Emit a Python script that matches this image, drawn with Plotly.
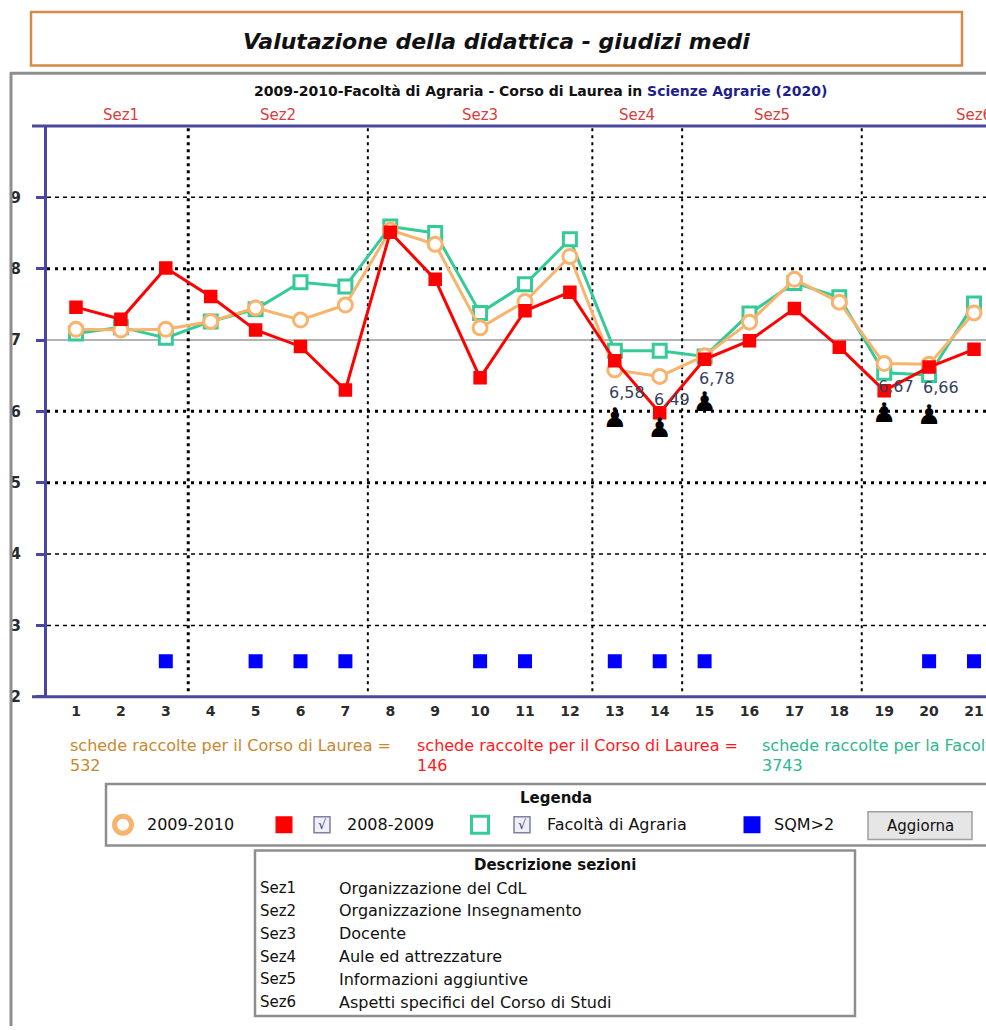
import plotly.graph_objects as go

# ---------------- data ----------------
items = list(range(1, 22))
v_2009_2010 = [7.15, 7.14, 7.15, 7.26, 7.45, 7.28, 7.49, 8.54, 8.34, 7.17, 7.54,
               8.17, 6.58, 6.49, 6.78, 7.25, 7.85, 7.53, 6.67, 6.66, 7.38]
v_2008_2009 = [7.46, 7.29, 8.01, 7.61, 7.14, 6.91, 6.30, 8.51, 7.85, 6.47, 7.41,
               7.67, 6.71, 5.98, 6.73, 6.99, 7.44, 6.90, 6.29, 6.62, 6.87]
v_facolta = [7.09, 7.18, 7.03, 7.26, 7.43, 7.81, 7.75, 8.59, 8.50, 7.38, 7.78,
             8.41, 6.85, 6.85, 6.77, 7.37, 7.80, 7.60, 6.54, 6.51, 7.51]
sqm_items = [3, 5, 6, 7, 10, 11, 13, 14, 15, 20, 21]
sqm_level = 2.5
pawn_items = [13, 14, 15, 19, 20]
pawn_vals = [5.87, 5.74, 6.10, 5.94, 5.92]
label_items = [13, 14, 15, 19, 20]

sections = ["Sez1", "Sez2", "Sez3", "Sez4", "Sez5", "Sez6"]
section_first = [1, 4, 8, 13, 15, 19]
section_last = [3, 7, 12, 14, 18, 23]
section_desc = ["Organizzazione del CdL", "Organizzazione Insegnamento", "Docente",
                "Aule ed attrezzature", "Informazioni aggiuntive",
                "Aspetti specifici del Corso di Studi"]
y_ticks = [2, 3, 4, 5, 6, 7, 8, 9]
thick_grid = [5, 6, 8]
thin_grid = [3, 4, 9]
ref_line = 7
count_texts = ["schede raccolte per il Corso di Laurea =",
               "schede raccolte per il Corso di Laurea =",
               "schede raccolte per la Facoltà ="]
count_values = ["532", "146", "3743"]
legend_names = ["2009-2010", "2008-2009", "Facoltà di Agraria", "SQM>2"]

# ---------------- style ----------------
W, H = 986, 1030
FONT = "DejaVu Sans"
ORANGE = "#F8B36C"
RED = "#FF0000"
GREEN = "#36CA97"
BLUE = "#0000FF"
AX = "#4B479F"
SEZ = "#D6403E"
GRAY = "#8E8E8E"


def px(x):
    return x / W


def py(y):
    return 1 - y / H


def note(x, y, text, size=16, color="#111", xanchor="center", **kw):
    d = dict(x=px(x), y=py(y), xref="paper", yref="paper", showarrow=False,
             xanchor=xanchor, yanchor="middle", text=text,
             font=dict(family=FONT, size=size, color=color))
    d.update(kw)
    return d


x_unit = 44.9
x_lo = 1 - (76 - 47) / x_unit
x_hi = x_lo + (W - 47) / x_unit

fig = go.Figure()

# series
fig.add_trace(go.Scatter(x=items, y=v_facolta, mode="lines+markers",
                         line=dict(color=GREEN, width=3),
                         marker=dict(symbol="square", size=13, color="white",
                                     line=dict(color=GREEN, width=3))))
fig.add_trace(go.Scatter(x=items, y=v_2009_2010, mode="lines+markers",
                         line=dict(color=ORANGE, width=3),
                         marker=dict(symbol="circle", size=14, color="white",
                                     line=dict(color=ORANGE, width=3))))
fig.add_trace(go.Scatter(x=items, y=v_2008_2009, mode="lines+markers",
                         line=dict(color=RED, width=3),
                         marker=dict(symbol="square", size=12, color=RED,
                                     line=dict(color=RED, width=1.5))))
fig.add_trace(go.Scatter(x=sqm_items, y=[sqm_level] * len(sqm_items), mode="markers",
                         marker=dict(symbol="square", size=12, color=BLUE,
                                     line=dict(color=BLUE, width=2))))
fig.add_trace(go.Scatter(x=pawn_items, y=pawn_vals, mode="text",
                         text=["♟"] * len(pawn_items),
                         textfont=dict(family=FONT, size=27, color="black"),
                         textposition="middle center"))

annotations = []
shapes = []

# data labels
for it in label_items:
    v = v_2009_2010[items.index(it)]
    annotations.append(dict(x=it, y=v, xref="x", yref="y", showarrow=False,
                            xanchor="center", yanchor="middle",
                            text=f"{v:.2f}".replace(".", ","), xshift=12, yshift=-23,
                            font=dict(family=FONT, size=16, color="#34405C")))

# grid
for g in thick_grid:
    shapes.append(dict(type="line", xref="x domain", yref="y", x0=0, x1=1, y0=g, y1=g,
                       line=dict(color="black", width=3, dash="3px,5px"), layer="below"))
for g in thin_grid:
    shapes.append(dict(type="line", xref="x domain", yref="y", x0=0, x1=1, y0=g, y1=g,
                       line=dict(color="black", width=1.5, dash="4px,4px"), layer="below"))
shapes.append(dict(type="line", xref="x domain", yref="y", x0=0, x1=1, y0=ref_line, y1=ref_line,
                   line=dict(color="#9A9A9A", width=1.5), layer="below"))
for k, last in enumerate(section_last[:-1]):
    d = last + 0.5
    thick = k == 0
    shapes.append(dict(type="line", xref="x", yref="y", x0=d, x1=d, y0=2.08, y1=10,
                       line=dict(color="black", width=3 if thick else 2, dash="3px,4px"),
                       layer="below"))

# section labels
for name, a, b in zip(sections, section_first, section_last):
    annotations.append(dict(x=(a + b) / 2, y=py(116), xref="x", yref="paper",
                            xanchor="center", yanchor="middle",
                            showarrow=False, text=name,
                            font=dict(family=FONT, size=15, color=SEZ)))

# axis frame lines (top and bottom)
for yy in (127, 703):
    shapes.append(dict(type="line", xref="paper", yref="paper", x0=px(32), x1=px(W + 5),
                       y0=py(yy), y1=py(yy), line=dict(color=AX, width=3)))

# outer frames
shapes.append(dict(type="rect", xref="paper", yref="paper", x0=px(31), x1=px(962),
                   y0=py(66), y1=py(12), line=dict(color="#D58B46", width=2.5)))
shapes.append(dict(type="line", xref="paper", yref="paper", x0=px(10), x1=px(W + 5),
                   y0=py(74), y1=py(74), line=dict(color=GRAY, width=3)))
shapes.append(dict(type="line", xref="paper", yref="paper", x0=px(11), x1=px(11),
                   y0=py(73), y1=py(H + 5), line=dict(color=GRAY, width=3)))

annotations.append(note(496, 42, "<b><i>Valutazione della didattica - giudizi medi</i></b>",
                        size=22))
annotations.append(note(540, 92, "<b>2009-2010-Facoltà di Agraria - Corso di Laurea in "
                                 "<span style='color:#1F1F8C'>Scienze Agrarie (2020)</span></b>",
                        size=14))

# counts below chart
count_colors = ["#C8882F", "#FF1A1A", "#2DB88E"]
count_x = [68, 415, 760]
for t, v, c, xx in zip(count_texts, count_values, count_colors, count_x):
    annotations.append(note(xx, 752, t, color=c, xanchor="left"))
    annotations.append(note(xx, 772, v, color=c, xanchor="left"))

# legend box
shapes.append(dict(type="rect", xref="paper", yref="paper", x0=px(106), x1=px(W + 20),
                   y0=py(853), y1=py(791), line=dict(color=GRAY, width=2.5)))
annotations.append(note(556, 805, "<b>Legenda</b>", size=15))
icon_x = [123, 284, 480, 752]
text_x = [145, 345, 545, 772]
fig.add_trace(go.Scatter(x=[icon_x[0]], y=[832], xaxis="x2", yaxis="y2", mode="markers",
                         marker=dict(symbol="circle", size=17, color="white",
                                     line=dict(color=ORANGE, width=5)), cliponaxis=False))
fig.add_trace(go.Scatter(x=[icon_x[1]], y=[832], xaxis="x2", yaxis="y2", mode="markers",
                         marker=dict(symbol="square", size=15, color=RED,
                                     line=dict(color=RED, width=2)), cliponaxis=False))
fig.add_trace(go.Scatter(x=[icon_x[2]], y=[832], xaxis="x2", yaxis="y2", mode="markers",
                         marker=dict(symbol="square", size=17, color="white",
                                     line=dict(color=GREEN, width=3)), cliponaxis=False))
fig.add_trace(go.Scatter(x=[icon_x[3]], y=[832], xaxis="x2", yaxis="y2", mode="markers",
                         marker=dict(symbol="square", size=15, color=BLUE,
                                     line=dict(color=BLUE, width=2)), cliponaxis=False))
for name, tx in zip(legend_names, text_x):
    annotations.append(note(tx, 832, name, xanchor="left"))
for cx in (322, 522):
    shapes.append(dict(type="rect", xref="paper", yref="paper", x0=px(cx - 8), x1=px(cx + 8),
                       y0=py(840), y1=py(824), fillcolor="#EEEEF4",
                       line=dict(color="#7C80A4", width=1.5)))
    annotations.append(note(cx, 832, "√", size=13, color="#3A3A8A"))
shapes.append(dict(type="rect", xref="paper", yref="paper", x0=px(868), x1=px(972),
                   y0=py(847), y1=py(819), fillcolor="#E6E6E6",
                   line=dict(color="#A0A0A0", width=1.5)))
annotations.append(note(920, 833, "Aggiorna", size=15))

# description box
shapes.append(dict(type="rect", xref="paper", yref="paper", x0=px(255), x1=px(855),
                   y0=py(1025), y1=py(858), line=dict(color=GRAY, width=2.5)))
annotations.append(note(555, 873, "<b>Descrizione sezioni</b>", size=15))
for k, (s, d) in enumerate(zip(sections, section_desc)):
    yy = 896 + k * 23
    annotations.append(note(258, yy, s, size=15, xanchor="left"))
    annotations.append(note(337, yy, d, size=16, xanchor="left"))

fig.update_layout(
    width=W, height=H, autosize=False, margin=dict(l=0, r=0, t=0, b=0, pad=0),
    paper_bgcolor="white", plot_bgcolor="rgba(0,0,0,0)", showlegend=False,
    font=dict(family=FONT, color="#111"),
    xaxis=dict(domain=[px(47), 1], range=[x_lo, x_hi], anchor="y", tickvals=items,
               ticks="", showgrid=False, zeroline=False, showline=False,
               ticklabelstandoff=4,
               tickfont=dict(family=FONT, size=14, color="#2B2B2B", weight="bold")),
    yaxis=dict(domain=[py(703), py(127)], range=[2, 10], anchor="x", tickvals=y_ticks,
               ticks="outside", ticklen=8, tickwidth=3, tickcolor=AX,
               showline=True, linecolor=AX, linewidth=3, showgrid=False, zeroline=False,
               ticklabelstandoff=12,
               tickfont=dict(family=FONT, size=15, color="#2B2B2B", weight="bold")),
    yaxis3=dict(overlaying="y", anchor="x", range=[2, 10], tickvals=y_ticks, ticks="inside",
                ticklen=7, tickwidth=3, tickcolor=AX, showticklabels=False,
                showgrid=False, zeroline=False, showline=False),
    xaxis2=dict(domain=[0, 1], range=[0, W], visible=False, anchor="y2"),
    yaxis2=dict(domain=[0, 1], range=[H, 0], visible=False, anchor="x2"),
    shapes=shapes, annotations=annotations,
)

fig.write_html(
    "out.html",
    config={"displayModeBar": False},
    post_script=(
        "document.documentElement.style.margin='0px';"
        "document.body.style.margin='0px';"
        "document.documentElement.style.overflow='hidden';"
        "document.body.style.overflow='hidden';"
        "var gd=document.getElementById('{plot_id}');"
        "gd.style.position='fixed';gd.style.left='0px';gd.style.top='0px';"
        "var vh=window.innerHeight, vw=window.innerWidth;"
        "if(vh>0 && vw>0 && (vh!==1030 || vw!==986)){"
        "Plotly.relayout(gd,{height:vh,width:vw});}"
    ),
)
